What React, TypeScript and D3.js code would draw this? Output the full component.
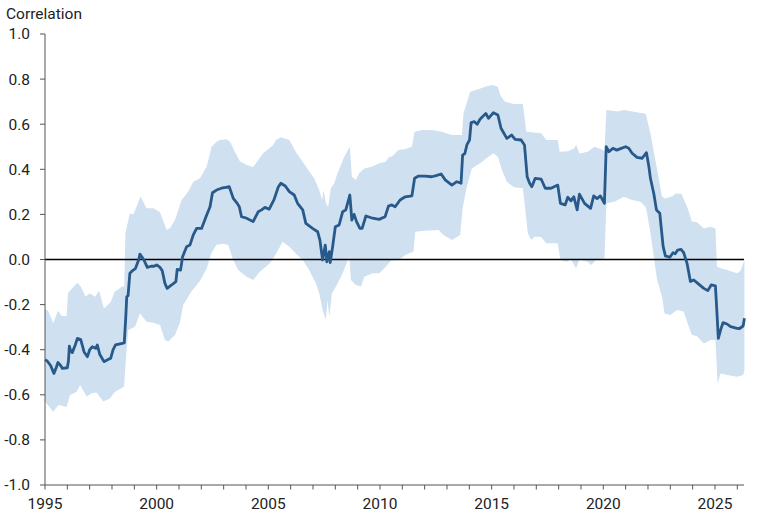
import React from "react";
import * as d3 from "d3";

const lineYears = [1995.0,1995.1,1995.25,1995.4,1995.5,1995.58,1995.7,1995.78,1996.0,1996.05,1996.09,1996.15,1996.22,1996.35,1996.45,1996.6,1996.75,1996.9,1997.0,1997.12,1997.27,1997.34,1997.45,1997.64,1997.8,1997.94,1998.05,1998.16,1998.46,1998.55,1998.62,1998.66,1998.72,1998.8,1998.95,1999.05,1999.2,1999.25,1999.35,1999.43,1999.58,1999.75,1999.88,2000.0,2000.15,2000.25,2000.37,2000.47,2000.67,2000.86,2000.92,2001.07,2001.16,2001.34,2001.49,2001.64,2001.79,2002.01,2002.24,2002.39,2002.5,2002.68,2002.9,2003.1,2003.25,2003.43,2003.6,2003.7,2003.8,2004.03,2004.32,2004.55,2004.7,2004.85,2005.04,2005.25,2005.44,2005.56,2005.76,2005.94,2006.16,2006.31,2006.54,2006.68,2006.98,2007.21,2007.31,2007.43,2007.55,2007.62,2007.73,2007.77,2007.88,2008.0,2008.17,2008.33,2008.47,2008.65,2008.74,2008.84,2008.95,2009.1,2009.2,2009.37,2009.67,2009.96,2010.23,2010.38,2010.53,2010.68,2010.9,2011.13,2011.43,2011.55,2011.73,2012.02,2012.32,2012.55,2012.74,2012.92,2013.22,2013.44,2013.63,2013.7,2013.8,2013.89,2014.01,2014.08,2014.23,2014.35,2014.48,2014.74,2014.86,2015.08,2015.28,2015.42,2015.68,2015.9,2016.05,2016.32,2016.47,2016.59,2016.7,2016.8,2016.95,2017.22,2017.4,2017.66,2017.96,2018.08,2018.29,2018.41,2018.55,2018.68,2018.83,2018.93,2019.16,2019.43,2019.57,2019.72,2019.87,2020.05,2020.13,2020.25,2020.43,2020.6,2020.8,2021.0,2021.14,2021.29,2021.51,2021.74,2021.93,2022.04,2022.11,2022.26,2022.38,2022.53,2022.59,2022.68,2022.78,2022.98,2023.12,2023.22,2023.33,2023.48,2023.6,2023.75,2023.9,2024.05,2024.23,2024.5,2024.68,2024.83,2025.02,2025.09,2025.15,2025.25,2025.36,2025.54,2025.7,2025.99,2026.1,2026.26,2026.32];
const lineValues = [-0.445,-0.45,-0.47,-0.505,-0.48,-0.457,-0.47,-0.483,-0.48,-0.45,-0.384,-0.405,-0.413,-0.38,-0.35,-0.355,-0.41,-0.431,-0.4,-0.387,-0.394,-0.379,-0.42,-0.453,-0.445,-0.438,-0.4,-0.379,-0.372,-0.37,-0.25,-0.165,-0.16,-0.061,-0.047,-0.04,0.0,0.024,0.01,-0.002,-0.035,-0.03,-0.03,-0.024,-0.035,-0.05,-0.106,-0.128,-0.113,-0.098,-0.044,-0.047,0.012,0.057,0.064,0.109,0.138,0.138,0.197,0.234,0.296,0.308,0.316,0.32,0.323,0.271,0.25,0.234,0.19,0.183,0.168,0.212,0.22,0.231,0.223,0.264,0.32,0.338,0.326,0.301,0.286,0.249,0.22,0.16,0.138,0.123,0.086,-0.002,0.064,-0.01,0.035,-0.014,0.057,0.145,0.153,0.212,0.22,0.286,0.175,0.2,0.168,0.138,0.138,0.193,0.183,0.178,0.19,0.237,0.242,0.234,0.264,0.278,0.282,0.36,0.37,0.37,0.367,0.373,0.379,0.353,0.33,0.345,0.338,0.463,0.47,0.508,0.53,0.607,0.611,0.6,0.622,0.648,0.626,0.651,0.641,0.582,0.537,0.552,0.533,0.53,0.508,0.367,0.338,0.323,0.36,0.356,0.316,0.316,0.33,0.249,0.242,0.276,0.26,0.278,0.22,0.29,0.249,0.227,0.282,0.27,0.282,0.249,0.5,0.478,0.493,0.485,0.493,0.5,0.493,0.471,0.453,0.449,0.474,0.412,0.36,0.293,0.22,0.205,0.145,0.057,0.016,0.01,0.03,0.025,0.042,0.045,0.03,-0.017,-0.098,-0.091,-0.106,-0.128,-0.138,-0.113,-0.117,-0.239,-0.35,-0.313,-0.28,-0.286,-0.298,-0.305,-0.306,-0.295,-0.261];

const upperYears = [1995.0,1995.15,1995.37,1995.58,1995.75,1995.97,1996.03,1996.2,1996.45,1996.6,1996.82,1997.0,1997.25,1997.42,1997.64,1997.94,1998.12,1998.46,1998.55,1998.6,1998.8,1998.95,1999.13,1999.28,1999.43,1999.55,1999.85,2000.15,2000.45,2000.6,2000.82,2001.12,2001.41,2001.64,2001.94,2002.24,2002.46,2002.68,2002.83,2003.13,2003.3,2003.46,2003.73,2004.03,2004.32,2004.55,2004.77,2005.22,2005.34,2005.56,2005.94,2006.23,2006.68,2007.05,2007.28,2007.41,2007.47,2007.58,2007.68,2007.8,2007.95,2008.1,2008.4,2008.65,2008.74,2008.92,2009.07,2009.3,2009.67,2009.96,2010.26,2010.41,2010.53,2010.83,2011.13,2011.43,2011.55,2011.88,2012.32,2012.77,2013.22,2013.67,2013.74,2014.04,2014.41,2014.71,2015.01,2015.28,2015.38,2015.6,2016.0,2016.4,2016.55,2017.22,2017.44,2017.96,2018.04,2018.41,2018.71,2018.78,2018.93,2019.3,2019.6,2019.9,2020.05,2020.14,2020.65,2020.92,2021.81,2021.9,2022.11,2022.33,2022.63,2022.78,2023.1,2023.23,2023.5,2023.75,2023.97,2024.2,2024.5,2024.8,2025.02,2025.09,2025.25,2025.54,2025.99,2026.15,2026.32];
const upperValues = [-0.217,-0.23,-0.283,-0.227,-0.25,-0.25,-0.15,-0.13,-0.103,-0.12,-0.165,-0.15,-0.165,-0.138,-0.217,-0.19,-0.143,-0.12,-0.12,0.116,0.205,0.2,0.242,0.28,0.25,0.227,0.227,0.21,0.131,0.14,0.175,0.264,0.301,0.345,0.36,0.412,0.5,0.522,0.53,0.533,0.52,0.486,0.435,0.419,0.41,0.441,0.471,0.508,0.53,0.542,0.53,0.478,0.412,0.36,0.308,0.264,0.308,0.249,0.234,0.316,0.338,0.382,0.456,0.5,0.367,0.353,0.382,0.404,0.412,0.427,0.434,0.456,0.456,0.486,0.49,0.5,0.567,0.574,0.574,0.567,0.552,0.552,0.648,0.744,0.755,0.766,0.774,0.766,0.73,0.7,0.69,0.69,0.567,0.56,0.53,0.53,0.478,0.48,0.493,0.51,0.47,0.478,0.5,0.49,0.48,0.663,0.656,0.663,0.648,0.645,0.56,0.441,0.278,0.27,0.28,0.293,0.29,0.234,0.168,0.165,0.138,0.145,0.138,-0.032,-0.039,-0.047,-0.061,-0.05,-0.002];

const lowerYears = [1995.0,1995.37,1995.6,1995.97,1996.12,1996.42,1996.57,1996.87,1997.09,1997.31,1997.61,1997.91,1998.13,1998.54,1998.63,1998.73,1999.03,1999.25,1999.55,1999.85,2000.15,2000.37,2000.52,2000.82,2001.04,2001.19,2001.57,2001.94,2002.24,2002.46,2002.68,2002.98,2003.2,2003.43,2003.65,2004.03,2004.32,2004.62,2005.07,2005.37,2005.64,2005.94,2006.23,2006.54,2006.83,2007.13,2007.28,2007.43,2007.58,2007.65,2007.73,2007.85,2008.03,2008.33,2008.62,2008.7,2008.92,2009.15,2009.3,2009.67,2009.96,2010.26,2010.49,2010.83,2011.13,2011.5,2011.58,2012.02,2012.62,2012.85,2013.22,2013.59,2013.7,2013.89,2014.11,2014.48,2014.86,2015.08,2015.28,2015.46,2015.68,2016.0,2016.4,2016.62,2016.77,2016.92,2017.22,2017.44,2017.96,2018.08,2018.33,2018.55,2018.78,2018.93,2019.3,2019.45,2019.7,2020.05,2020.14,2020.5,2020.92,2021.29,2021.66,2021.89,2021.96,2022.11,2022.26,2022.41,2022.63,2022.74,2023.0,2023.3,2023.6,2023.83,2023.97,2024.2,2024.5,2024.8,2025.02,2025.12,2025.25,2025.54,2025.99,2026.26,2026.32];
const lowerValues = [-0.63,-0.675,-0.645,-0.653,-0.601,-0.586,-0.557,-0.608,-0.593,-0.59,-0.63,-0.616,-0.586,-0.564,-0.431,-0.313,-0.298,-0.239,-0.276,-0.28,-0.29,-0.357,-0.364,-0.335,-0.28,-0.202,-0.14,-0.095,-0.04,0.03,0.065,0.07,0.064,-0.002,-0.047,-0.076,-0.091,-0.054,-0.017,0.03,0.079,0.057,0.027,-0.002,-0.047,-0.106,-0.15,-0.224,-0.268,-0.18,-0.254,-0.15,-0.12,-0.061,0.012,-0.091,-0.113,-0.12,-0.076,-0.061,-0.061,-0.032,-0.005,-0.002,0.02,0.035,0.123,0.128,0.131,0.109,0.086,0.109,0.227,0.323,0.404,0.427,0.456,0.471,0.456,0.397,0.345,0.32,0.316,0.116,0.086,0.101,0.1,0.072,0.072,-0.002,-0.01,0.0,-0.039,0.0,-0.01,-0.024,0.0,0.005,0.249,0.256,0.278,0.264,0.256,0.234,0.205,0.116,0.012,-0.091,-0.165,-0.239,-0.246,-0.224,-0.231,-0.298,-0.335,-0.34,-0.372,-0.357,-0.357,-0.549,-0.505,-0.512,-0.52,-0.512,-0.49];

const yTicks = [-1.0, -0.8, -0.6, -0.4, -0.2, 0.0, 0.2, 0.4, 0.6, 0.8, 1.0];
const xLabelYears = [1995, 2000, 2005, 2010, 2015, 2020, 2025];
const xMinorYears = d3.range(1995, 2027);
const yAxisTitle = "Correlation";

const W = 768;
const H = 516;
const M = { left: 45, right: 24, top: 34, bottom: 31 };
const FONT = "Roboto, 'Noto Sans', sans-serif";

export default function App() {
  const x = d3.scaleLinear().domain([1995, 2026.3]).range([M.left, W - M.right]);
  const y = d3.scaleLinear().domain([-1, 1]).range([H - M.bottom, M.top]);

  const upperPts: [number, number][] = upperYears.map((t, i) => [t, upperValues[i]]);
  const lowerPts: [number, number][] = lowerYears.map((t, i) => [t, lowerValues[i]]).reverse() as [number, number][];
  const gen = d3.line<[number, number]>().x((d) => x(d[0])).y((d) => y(d[1]));
  const bandPath = gen([...upperPts, ...lowerPts]) + "Z";

  const linePts: [number, number][] = lineYears.map((t, i) => [t, lineValues[i]]);
  const linePath = gen(linePts) || "";

  const x0 = x(1995);
  const x1 = x(2026.3);
  const yBottom = y(-1);

  return (
    <div style={{ position: "fixed", left: 0, top: 0, width: W, height: H, background: "#fff" }}>
      <svg width={W} height={H} style={{ display: "block" }}>
        <path d={bandPath} fill="#cfe0f0" stroke="none" />
        <line x1={x0} x2={x1} y1={y(0)} y2={y(0)} stroke="#000" strokeWidth={1.3} />
        <path d={linePath} fill="none" stroke="#27598a" strokeWidth={2.8} strokeLinejoin="round" />
        <line x1={x0} x2={x0} y1={y(1)} y2={yBottom} stroke="#555" strokeWidth={1} />
        {yTicks.map((v) => (
          <g key={v}>
            <line x1={x0 - 5} x2={x0} y1={y(v)} y2={y(v)} stroke="#555" strokeWidth={1} />
            <text x={30} y={y(v)} dy="0.35em" textAnchor="end" fontFamily={FONT} fontSize={15.5} fill="#222">
              {v.toFixed(1)}
            </text>
          </g>
        ))}
        <line x1={x0} x2={x1} y1={yBottom} y2={yBottom} stroke="#555" strokeWidth={1} />
        {xMinorYears.map((t) => (
          <line key={t} x1={x(t)} x2={x(t)} y1={yBottom} y2={yBottom + 4.5} stroke="#555" strokeWidth={1} />
        ))}
        {xLabelYears.map((t) => (
          <text key={t} x={x(t)} y={509} textAnchor="middle" fontFamily={FONT} fontSize={15.5} fill="#222">
            {t}
          </text>
        ))}
        <text x={6} y={19} fontFamily={FONT} fontSize={15.5} fill="#222">
          {yAxisTitle}
        </text>
      </svg>
    </div>
  );
}
